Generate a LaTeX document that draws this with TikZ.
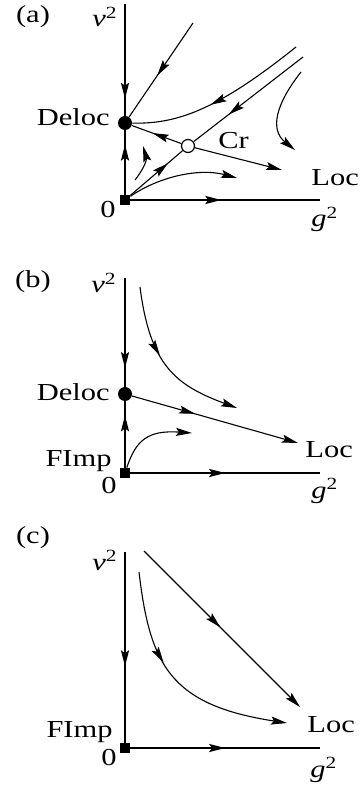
\documentclass[tikz,border=0pt]{standalone}
\usepackage{fontspec}
\setmainfont{Liberation Serif}[FakeStretch=1.25]
\usetikzlibrary{arrows.meta,decorations.markings}
\begin{document}
\begin{tikzpicture}[x=0.5pt,y=-0.5pt,
  every node/.style={font=\fontsize{12.2}{14}\selectfont, inner sep=0pt},
  axis/.style={line width=1pt},
  flow/.style={line width=0.55pt},
  tip/.style={-{Stealth[length=8pt,width=4pt,inset=1.4pt]}},
  marrow/.style={postaction={decorate},decoration={markings,mark=at position #1 with {\arrow{Stealth[length=8pt,width=4pt,inset=1.4pt]}}}},
  fixd/.style={circle,fill=black,minimum size=7pt},
  fixo/.style={circle,draw,fill=white,line width=0.6pt,minimum size=6.5pt},
  orig/.style={rectangle,fill=black,minimum size=5pt},
  lw/.style={anchor=base west},
  le/.style={anchor=base east},
  lc/.style={anchor=base}
]
\useasboundingbox (0,0) rectangle (360,785);

% ---------------- panel (a)
\node[lc] (la) at (33,23) {(a)};
\node[lw] (va) at (92,27) {\textit{v}\textsuperscript{2}};
\node[fixd] (Da) at (125,123) {};
\node[fixo] (Ca) at (188,146) {};
\node[orig] (Oa) at (125,200) {};
\coordinate (Ta) at (125,4);
\coordinate (Ea) at (320,200);
\draw[axis, marrow=0.85] (Ta) -- (Da);
\draw[axis, marrow=0.78] (Oa) -- (Da);
\draw[axis, marrow=0.48] (Oa) -- (Ea);
\coordinate (a1) at (193,23);
\draw[flow, marrow=0.56] (a1) -- (Da);
\coordinate (a2) at (296,47);
\draw[flow, marrow=0.56] (a2) .. controls (215,112) and (175,124) .. (Da);
\coordinate (a3) at (303,57);
\draw[flow, marrow=0.68] (a3) -- (Ca);
\draw[flow, marrow=0.72] (Oa) -- (Ca);
\draw[flow, marrow=0.58] (Ca) -- (Da);
\coordinate (a4) at (282,170);
\draw[flow, tip] (Ca) -- (a4);
\coordinate (a5s) at (135,180);
\coordinate (a5e) at (143,146);
\draw[flow, tip] (a5s) .. controls (143,170) and (147,160) .. (a5e);
\coordinate (a6) at (237,178);
\draw[flow, tip] (Oa) .. controls (160,176) and (200,168) .. (a6);
\coordinate (a7s) at (301,72);
\coordinate (a7e) at (295,150);
\draw[flow, tip] (a7s) .. controls (275,105) and (270,130) .. (a7e);
\node[le] (dla) at (110,126) {Deloc};
\node[lw] (cra) at (218,149) {Cr};
\node[lw] (loa) at (311,186) {Loc};
\node[lc] (za) at (108,218) {0};
\node[lw] (ga) at (311,227) {\textit{g}\textsuperscript{2}};

% ---------------- panel (b)
\node[lc] (lb) at (33,288) {(b)};
\node[lw] (vb) at (91,293) {\textit{v}\textsuperscript{2}};
\node[fixd] (Db) at (125,394) {};
\node[orig] (Ob) at (125,473) {};
\coordinate (Tb) at (125,278);
\coordinate (Eb) at (320,473);
\draw[axis, marrow=0.83] (Tb) -- (Db);
\draw[axis, marrow=0.79] (Ob) -- (Db);
\draw[axis, marrow=0.5] (Ob) -- (Eb);
\coordinate (b1) at (298,443);
\draw[flow, tip, marrow=0.38] (Db) -- (b1);
\coordinate (b2s) at (140,287);
\coordinate (b2e) at (237,408);
\draw[flow, tip, marrow=0.43] (b2s) .. controls (150,365) and (175,385) .. (b2e);
\coordinate (b3) at (192,433);
\draw[flow, tip] (Ob) .. controls (136,440) and (148,430) .. (b3);
\node[le] (dlb) at (110,400) {Deloc};
\node[le] (fib) at (112,466) {FImp};
\node[lw] (lob) at (305,457) {Loc};
\node[lc] (zb) at (109,493) {0};
\node[lw] (gb) at (311,498) {\textit{g}\textsuperscript{2}};

% ---------------- panel (c)
\node[lc] (lc) at (33,543) {(c)};
\node[lw] (vc) at (92,570) {\textit{v}\textsuperscript{2}};
\node[orig] (Oc) at (125,748) {};
\coordinate (Tc) at (125,552);
\coordinate (Ec) at (320,748);
\draw[axis, marrow=0.6] (Tc) -- (Oc);
\draw[axis, marrow=0.5] (Oc) -- (Ec);
\coordinate (c1s) at (144,551);
\coordinate (c1e) at (300,707);
\draw[flow, tip, marrow=0.49] (c1s) -- (c1e);
\coordinate (c2s) at (139,572);
\coordinate (c2e) at (287,723);
\draw[flow, tip, marrow=0.4] (c2s) .. controls (150,665) and (170,705) .. (c2e);
\node[le] (fic) at (113,737) {FImp};
\node[lw] (loc) at (307,732) {Loc};
\node[lc] (zc) at (109,765) {0};
\node[lw] (gc) at (310,777) {\textit{g}\textsuperscript{2}};
\end{tikzpicture}
\end{document}
